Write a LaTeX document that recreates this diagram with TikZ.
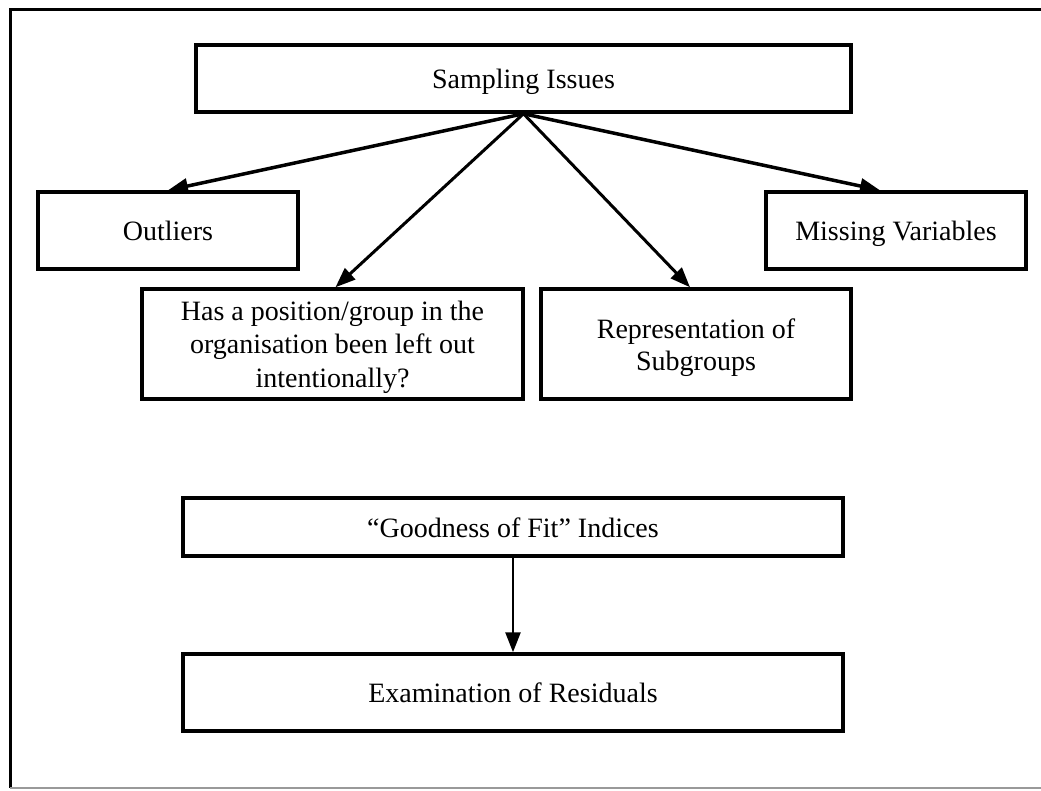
\documentclass[tikz,border=0pt]{standalone}
\usepackage{fontspec}
\setmainfont{Liberation Serif}
\usetikzlibrary{arrows.meta}
\begin{document}
\begin{tikzpicture}[x=1pt,y=-1pt,
  box/.style={draw, line width=3.5pt, inner sep=0pt, align=center,
    font=\fontsize{28}{33.5}\selectfont},
  oneline/.style={text height=24pt, text depth=4pt},
  caption/.style={inner sep=0pt, align=center},
  link/.style={line width=3pt, -{Triangle[length=20pt,width=15pt]}}]
\useasboundingbox (0,0) rectangle (1041,790);
\fill[white] (0,0) rectangle (1041,790);

% outer frame, open on the right
\draw[line width=3pt] (1041,9) -- (10,9) -- (10,788);
\draw[line width=2.5pt, black!40] (10,788) -- (1041,788);

% boxes
\node[box, oneline, minimum width=655pt, minimum height=67pt] (samp) at (523.5,78.5) {Sampling Issues};
\node[box, oneline, minimum width=260pt, minimum height=77pt] (outl) at (168,230.5) {Outliers};
\node[box, oneline, minimum width=260pt, minimum height=77pt] (miss) at (896,230.5) {Missing Variables};
\node[box, minimum width=381pt, minimum height=110pt] (hasa) at (332.5,344) {};
\node[caption, font=\fontsize{28}{33.5}\selectfont] (hasatext) at (332.5,347)
  {Has a position/group in the\\organisation been left out\\intentionally?};
\node[box, minimum width=310pt, minimum height=110pt] (repr) at (696,344) {};
\node[caption, font=\fontsize{28}{32}\selectfont] (reprtext) at (696,348)
  {Representation of\\Subgroups};
\node[box, oneline, minimum width=660pt, minimum height=58pt] (good) at (513,527) {``Goodness of Fit'' Indices};
\node[box, oneline, minimum width=660pt, minimum height=77pt] (exam) at (513,692.5) {Examination of Residuals};

% connectors
\draw[link, line width=3.5pt] (samp.south) -- (outl.north);
\draw[link] (samp.south) -- ([xshift=3pt]hasa.north);
\draw[link] (samp.south) -- ([xshift=-6pt]repr.north);
\draw[link, line width=3.5pt] (samp.south) -- ([xshift=-16pt]miss.north);
\draw[link, line width=2.5pt] (good.south) -- (exam.north);
\end{tikzpicture}
\end{document}
